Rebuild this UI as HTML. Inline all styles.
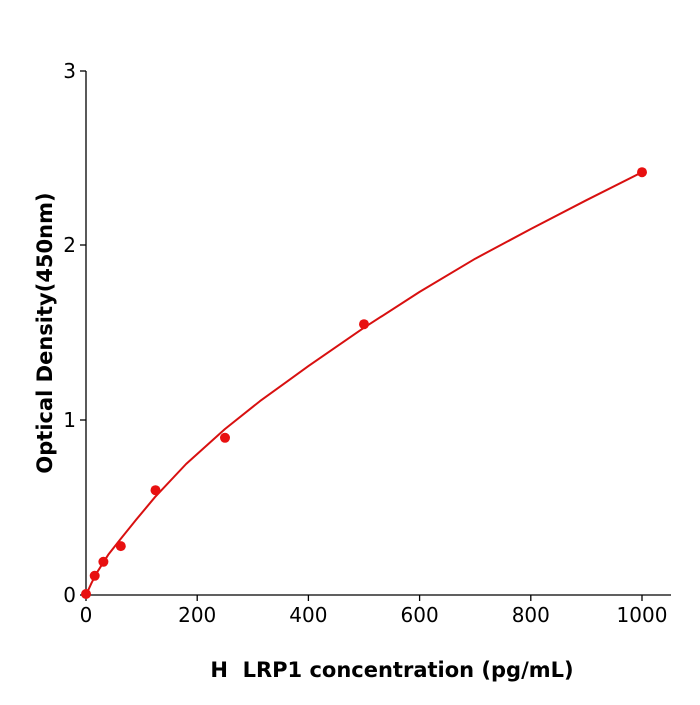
<!DOCTYPE html>
<html><head><style>body{margin:0;background:#fff}</style></head><body>
<svg width="700" height="700" xmlns="http://www.w3.org/2000/svg" font-family="DejaVu Sans, Liberation Sans, sans-serif">
<rect width="700" height="700" fill="#fff"/>
<g stroke="#000" stroke-width="1.3" fill="none">
<line x1="86" y1="71" x2="86" y2="595"/>
<line x1="86" y1="595" x2="671" y2="595"/>
<line x1="80" y1="595" x2="86" y2="595"/>
<line x1="80" y1="420" x2="86" y2="420"/>
<line x1="80" y1="245" x2="86" y2="245"/>
<line x1="80" y1="71" x2="86" y2="71"/>
<line x1="86" y1="595" x2="86" y2="601"/>
<line x1="197.2" y1="595" x2="197.2" y2="601"/>
<line x1="308.4" y1="595" x2="308.4" y2="601"/>
<line x1="419.6" y1="595" x2="419.6" y2="601"/>
<line x1="530.8" y1="595" x2="530.8" y2="601"/>
<line x1="642" y1="595" x2="642" y2="601"/>
</g>
<g font-size="20" fill="#000" text-anchor="end">
<text x="76" y="602">0</text><text x="76" y="427">1</text><text x="76" y="252">2</text><text x="76" y="78">3</text>
</g>
<g font-size="20" fill="#000" text-anchor="middle">
<text x="86" y="622">0</text><text x="197.2" y="622">200</text><text x="308.4" y="622">400</text><text x="419.6" y="622">600</text><text x="530.8" y="622">800</text><text x="642" y="622">1000</text>
</g>
<text x="392" y="677" font-size="21" font-weight="bold" text-anchor="middle" xml:space="preserve">H  LRP1 concentration (pg/mL)</text>
<text transform="translate(52,333) rotate(-90)" font-size="21" font-weight="bold" text-anchor="middle">Optical Density(450nm)</text>
<polyline fill="none" stroke="#d81010" stroke-width="2" stroke-linejoin="round" points="86,595 91.6,582.8 97.1,572.3 108.2,554.8 120.5,539.1 136,519.9 154.9,497.2 186.1,464 225,429 260,401.1 308.4,366.1 364,327.7 419.6,291.9 475.2,258.7 530.8,229 586.4,200.2 642,172.2"/>
<g fill="#e81010">
<circle cx="86" cy="594" r="5"/><circle cx="94.7" cy="575.8" r="5"/><circle cx="103.4" cy="561.8" r="5"/><circle cx="120.8" cy="546.1" r="5"/><circle cx="155.5" cy="490.2" r="5"/><circle cx="225" cy="437.8" r="5"/><circle cx="364" cy="324.2" r="5"/><circle cx="642" cy="172.2" r="5"/>
</g>
</svg>
</body></html>
